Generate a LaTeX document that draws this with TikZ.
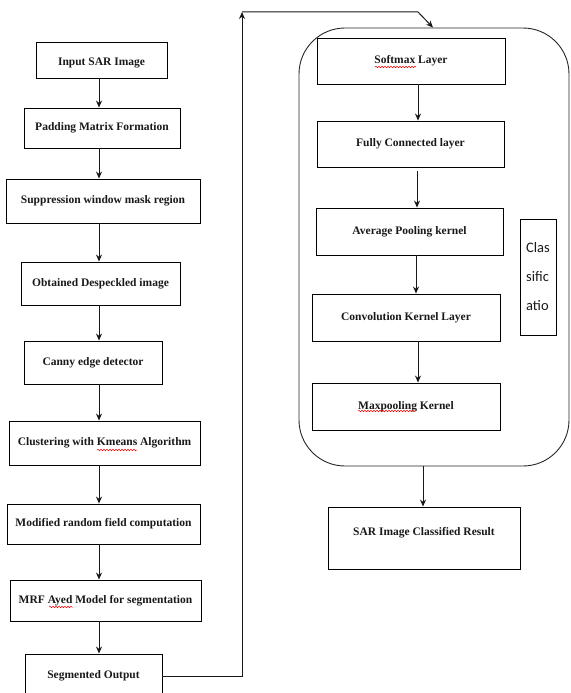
\documentclass[tikz,border=0pt]{standalone}
\usepackage{fontspec}
\setmainfont{Liberation Serif}
\newfontfamily\calib{Carlito}
\usetikzlibrary{arrows.meta,decorations.pathmorphing}
\tikzset{
  box/.style={draw=black, line width=0.9pt, inner sep=0pt, font=\bfseries\fontsize{11.5}{13}\selectfont, text=black!90},
  arr/.style={line width=1pt, draw=black!90, -{Stealth[length=7pt,width=6pt]}},
  squig/.style={draw=red, line width=0.5pt, decorate, decoration={snake, amplitude=0.8pt, segment length=3pt}}
}
\begin{document}
\begin{tikzpicture}[x=1pt,y=-1pt]
\useasboundingbox (0,0) rectangle (570,693);
% left column
\node[box, minimum width=131, minimum height=36, text height=13pt] (in) at (101.5,60) {Input SAR Image};
\node[box, minimum width=156, minimum height=40] (pad) at (102,128) {Padding Matrix Formation};
\node[box, minimum width=194, minimum height=44] (sup) at (103,201) {Suppression window mask region};
\node[box, minimum width=159, minimum height=43] (obt) at (100.5,283.5) {Obtained Despeckled image};
\node[box, minimum width=138, minimum height=43] (can) at (93,362.5) {Canny edge detector};
\node[box, minimum width=191, minimum height=44] (clu) at (104.5,443) {Clustering with Kmeans Algorithm};
\node[box, minimum width=193, minimum height=40] (mod) at (103.5,524) {Modified random field computation};
\node[box, minimum width=191, minimum height=41] (mrf) at (105.5,600.5) {MRF Ayed Model for segmentation};
\node[box, minimum width=137, minimum height=44] (seg) at (93.5,676) {Segmented Output};
\coordinate (colL) at (99,0);
\draw[arr] (in.south -| colL) -- (pad.north -| colL);
\draw[arr] (pad.south -| colL) -- (sup.north -| colL);
\draw[arr] (sup.south -| colL) -- (obt.north -| colL);
\draw[arr] (obt.south -| colL) -- (can.north -| colL);
\draw[arr] (can.south -| colL) -- (clu.north -| colL);
\draw[arr] (clu.south -| colL) -- (mod.north -| colL);
\draw[arr] (mod.south -| colL) -- (mrf.north -| colL);
\draw[arr] (mrf.south -| colL) -- (seg.north -| colL);
% right column
\node[draw=black!85, line width=0.9pt, rounded corners=46pt, minimum width=270, minimum height=438, inner sep=0pt] (cls) at (434,247) {};
\node[box, minimum width=188, minimum height=46] (soft) at (411,61) {Softmax Layer};
\node[box, minimum width=187, minimum height=46] (fc) at (410.5,144) {Fully Connected layer};
\node[box, minimum width=187, minimum height=47] (avg) at (409.5,231.5) {Average Pooling kernel};
\node[box, minimum width=188, minimum height=47] (conv) at (406,317.5) {Convolution Kernel Layer};
\node[box, minimum width=188, minimum height=47] (max) at (406,406.5) {Maxpooling Kernel};
\node[draw=black, line width=0.9pt, minimum width=36, minimum height=116, inner sep=0pt, align=left, font=\calib\fontsize{14.5}{29}\selectfont, text=black!90] (clab) at (538,277) {Clas\\sific\\atio};
\node[box, minimum width=192, minimum height=62, text depth=14pt] (res) at (424,538) {SAR Image Classified Result};
\coordinate (a1) at (418,0);
\coordinate (a2) at (417,0);
\coordinate (a3) at (416,0);
\coordinate (a4) at (423,0);
\draw[arr] (soft.south -| a1) -- (fc.north -| a1);
\draw[arr] ([yshift=-4pt]fc.south -| a2) -- (avg.north -| a2);
\draw[arr] (avg.south -| a3) -- (conv.north -| a3);
\draw[arr] (conv.south -| a1) -- (max.north -| a1);
\draw[arr] (cls.south -| a4) -- (res.north -| a4);
% feedback connector
\coordinate (c1) at (242,12);
\coordinate (c2) at (418,12);
\coordinate (c3) at (433,0);
\draw[arr] (seg.east) -| (c1);
\draw[arr] (c1) -- (c2) -- (cls.north -| c3);
% spell-check marks
\draw[squig] (97,450) -- (137,450);
\draw[squig] (49,607) -- (73,607);
\draw[squig] (375,67) -- (416,67);
\draw[squig] (358,411) -- (415,411);
\end{tikzpicture}
\end{document}
